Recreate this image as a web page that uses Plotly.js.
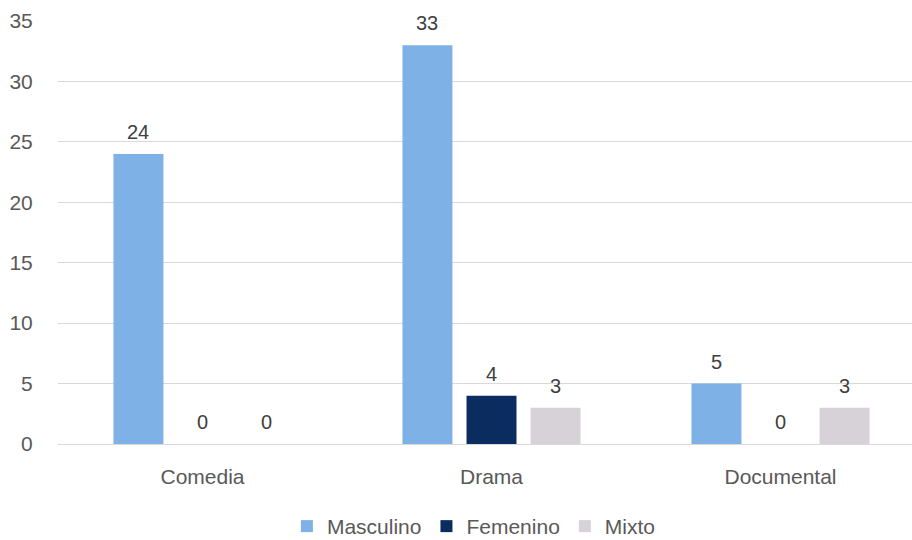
<!DOCTYPE html>
<html>
<head>
<meta charset="utf-8">
<script src="https://cdn.plot.ly/plotly-3.0.1.min.js"></script>
<style>html,body{margin:0;padding:0;background:#fff;overflow:hidden}#wrap{width:912px;height:540px;overflow:hidden}</style>
</head>
<body>
<div id="wrap"><div id="chart" style="width:912px;height:560px"></div></div>
<script>
const categories = ["Comedia", "Drama", "Documental"];
const masculino = [24, 33, 5];
const femenino = [0, 4, 0];
const mixto = [0, 3, 3];
const seriesNames = ["Masculino", "Femenino", "Mixto"];
const colors = ["#7EB1E6", "#0B2C5F", "#D6D2D8"];

const font = "Liberation Sans, Arial, sans-serif";
const fs = 21;
const vals = [masculino, femenino, mixto];
const bargap = 0.335;
const slot = (1 - bargap) / vals.length;

const traces = vals.map((v, i) => ({
  type: "bar",
  name: seriesNames[i],
  x: categories,
  y: v,
  marker: {color: colors[i]},
  hoverinfo: "none"
}));

const annotations = [];
vals.forEach((v, i) => {
  v.forEach((val, j) => {
    annotations.push({
      xref: "x", yref: "y",
      x: j + (i - (vals.length - 1) / 2) * slot,
      y: val,
      text: String(val),
      showarrow: false,
      yanchor: "bottom",
      yshift: 9,
      font: {family: font, size: fs - 1, color: "#404040"}
    });
  });
});

const layout = {
  width: 912, height: 560,
  margin: {l: 58, r: 0, t: 21, b: 116},
  paper_bgcolor: "#fff", plot_bgcolor: "#fff",
  font: {family: font, size: fs, color: "#595959"},
  barmode: "group",
  bargap: bargap,
  bargroupgap: 0.22,
  showlegend: true,
  annotations: annotations,
  legend: {orientation: "h", x: 0.487, xanchor: "center", y: -0.195, yanchor: "middle",
           font: {family: font, size: fs, color: "#595959"}, tracegroupgap: 0},
  xaxis: {type: "category", range: [-0.5, 2.455], showgrid: false, zeroline: false,
          showline: true, linecolor: "#d9d9d9", linewidth: 1,
          ticks: "outside", ticklen: 14, tickcolor: "rgba(0,0,0,0)",
          tickfont: {family: font, size: fs, color: "#595959"}, fixedrange: true},
  yaxis: {range: [0, 35], dtick: 5, tick0: 0, showgrid: true, gridcolor: "#d9d9d9", gridwidth: 1,
          zeroline: false, showline: false,
          ticks: "outside", ticklen: 20, tickcolor: "rgba(0,0,0,0)",
          tickfont: {family: font, size: fs, color: "#595959"}, fixedrange: true}
};

Plotly.newPlot("chart", traces, layout, {staticPlot: true, displayModeBar: false});
</script>
</body>
</html>
